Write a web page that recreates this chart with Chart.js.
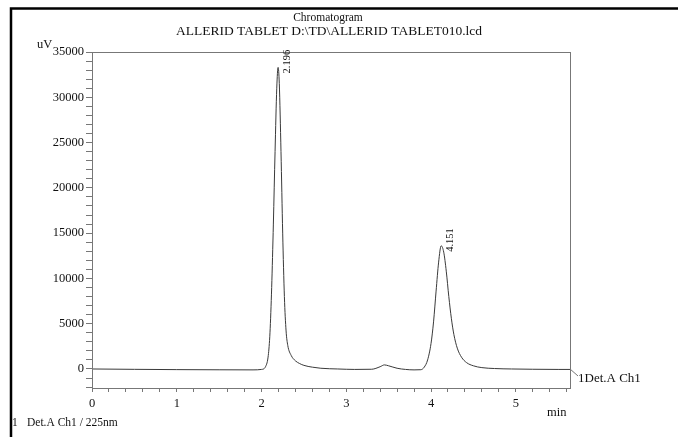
<!DOCTYPE html>
<html lang="en">
<head>
<meta charset="UTF-8">
<title>Chromatogram</title>
<script src="https://cdn.jsdelivr.net/npm/chart.js"></script>
<style>
  html, body { margin: 0; padding: 0; background: #fff; }
  #wrap { position: relative; width: 678px; height: 437px; }
</style>
</head>
<body>
<div id="wrap"><canvas id="chrom" width="678" height="437"></canvas></div>
<script>
// retention time (min) and detector signal (uV)
const times = [0, 0.5, 1.0, 1.5, 1.9, 2.0, 2.05, 2.08, 2.10, 2.12, 2.14, 2.16, 2.18, 2.196,
  2.21, 2.23, 2.25, 2.27, 2.29, 2.31, 2.35, 2.40, 2.45, 2.50, 2.60, 2.70, 2.90, 3.10, 3.30,
  3.40, 3.45, 3.50, 3.60, 3.70, 3.80, 3.88, 3.92, 3.96, 4.00, 4.03, 4.06, 4.09, 4.12, 4.15,
  4.18, 4.21, 4.24, 4.27, 4.31, 4.36, 4.42, 4.50, 4.60, 4.75, 4.95, 5.20, 5.50, 5.64];
const signal = [0, -40, -70, -90, -100, -50, 300, 1500, 4000, 9000, 16000, 24000, 31000, 33300,
  31500, 24000, 15000, 8000, 4200, 2600, 1500, 900, 600, 400, 200, 80, 0, -50, -30,
  250, 450, 350, 80, -50, -100, -80, 200, 1000, 2800, 5200, 8600, 11800, 13600, 12900,
  10800, 8000, 5600, 3800, 2300, 1300, 700, 350, 150, 50, 0, -30, -50, -50];

const peakTimes = [2.196, 4.12];
const peakHeights = [33300, 13600];
const peakLabels = ['2.196', '4.151'];

const yTickLabels = [0, 5000, 10000, 15000, 20000, 25000, 30000, 35000];
const xTickLabels = [0, 1, 2, 3, 4, 5];

const serif = '"Liberation Serif", "DejaVu Serif", serif';

const decor = {
  id: 'decor',
  beforeDraw(chart) {
    const c = chart.ctx;
    c.save();
    c.fillStyle = '#fff';
    c.fillRect(0, 0, chart.width, chart.height);
    c.restore();
  },
  afterDraw(chart) {
    const c = chart.ctx, a = chart.chartArea;
    const xs = chart.scales.x, ys = chart.scales.y;
    c.save();
    // scan frame
    c.strokeStyle = '#000';
    c.lineWidth = 2.5;
    c.beginPath();
    c.moveTo(11, 437); c.lineTo(11, 8.5); c.lineTo(678, 8.5);
    c.stroke();
    // plot box
    c.strokeStyle = '#777';
    c.lineWidth = 1;
    c.strokeRect(a.left + 0.5, a.top + 0.5, a.right - a.left, a.bottom - a.top);
    // texts
    c.fillStyle = '#111';
    c.textAlign = 'center';
    c.textBaseline = 'middle';
    c.font = '11.5px ' + serif;
    c.fillText('Chromatogram', 328, 18);
    c.font = '13.5px ' + serif;
    c.fillText('ALLERID TABLET D:\\TD\\ALLERID TABLET010.lcd', 329, 31);
    c.font = '12.5px ' + serif;
    c.textAlign = 'left';
    c.fillText('uV', 37, 45);
    c.fillText('min', 547, 413);
    c.font = '11.5px ' + serif;
    c.fillText('1', 12, 423);
    c.fillText('Det.A Ch1 / 225nm', 27, 423);
    // channel tag
    const y0 = ys.getPixelForValue(0);
    c.strokeStyle = '#777';
    c.beginPath();
    c.moveTo(a.right, y0); c.lineTo(a.right + 8, y0 + 7);
    c.stroke();
    c.font = '13px ' + serif;
    c.fillText('1Det.A Ch1', 578, 379);
    // peak labels, rotated
    c.font = '10.5px ' + serif;
    peakTimes.forEach((t, i) => {
      const px = xs.getPixelForValue(t), py = ys.getPixelForValue(peakHeights[i]);
      c.save();
      c.translate(px + 9, py + 6);
      c.rotate(-Math.PI / 2);
      c.textAlign = 'left';
      c.textBaseline = 'middle';
      c.fillText(peakLabels[i], 0, 0);
      c.restore();
    });
    c.restore();
  }
};

new Chart(document.getElementById('chrom'), {
  type: 'line',
  data: {
    datasets: [{
      data: times.map((t, i) => ({ x: t, y: signal[i] })),
      borderColor: '#3a3a3a',
      borderWidth: 1,
      pointRadius: 0,
      tension: 0.35,
      cubicInterpolationMode: 'monotone',
      fill: false
    }]
  },
  options: {
    responsive: false,
    animation: false,
    layout: { padding: { left: 0, top: 52, right: 108, bottom: 29 } },
    plugins: { legend: { display: false }, tooltip: { enabled: false } },
    scales: {
      x: {
        type: 'linear', min: 0, max: 5.64,
        afterBuildTicks: s => { s.ticks = []; for (let k = 0; k <= 28; k++) s.ticks.push({ value: k / 5 }); },
        afterFit: s => { s.height = 20; },
        grid: { drawOnChartArea: false, tickLength: 4, color: '#777', tickColor: '#777' },
        border: { color: '#777' },
        ticks: {
          autoSkip: false, maxRotation: 0, padding: 4, color: '#111',
          font: { family: serif, size: 12.5 },
          callback: v => xTickLabels.includes(Math.round(v * 1000) / 1000) ? String(Math.round(v)) : ''
        }
      },
      y: {
        min: -2100, max: 35000,
        afterBuildTicks: s => { s.ticks = []; for (let v = -2000; v <= 35000; v += 1000) s.ticks.push({ value: v }); },
        afterFit: s => { s.width = 92; },
        grid: { drawOnChartArea: false, tickLength: 6, color: '#777', tickColor: '#777' },
        border: { color: '#777' },
        ticks: {
          autoSkip: false, padding: 2, color: '#111',
          font: { family: serif, size: 12.5 },
          callback: v => yTickLabels.includes(v) ? String(v) : ''
        }
      }
    }
  },
  plugins: [decor]
});
</script>
</body>
</html>
